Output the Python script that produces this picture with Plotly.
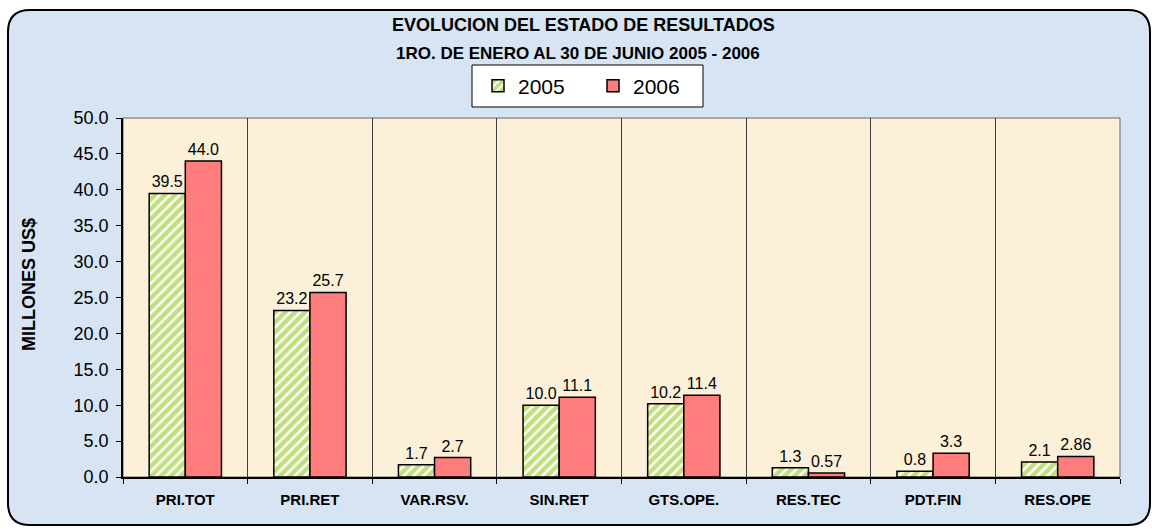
import plotly.graph_objects as go

categories = ["PRI.TOT", "PRI.RET", "VAR.RSV.", "SIN.RET", "GTS.OPE.", "RES.TEC", "PDT.FIN", "RES.OPE"]
values_2005 = [39.5, 23.2, 1.7, 10.0, 10.2, 1.3, 0.8, 2.1]
values_2006 = [44.0, 25.7, 2.7, 11.1, 11.4, 0.57, 3.3, 2.86]
labels_2005 = ["39.5", "23.2", "1.7", "10.0", "10.2", "1.3", "0.8", "2.1"]
labels_2006 = ["44.0", "25.7", "2.7", "11.1", "11.4", "0.57", "3.3", "2.86"]
y_ticks = [0, 5, 10, 15, 20, 25, 30, 35, 40, 45, 50]

W, H = 1152, 529
L, R, T, B = 123, 32, 118, 52
pw, ph = W - L - R, H - T - B

def px2x(px):
    return (px - L) / pw

def py2y(py):
    return (H - B - py) / ph

FONT = "Liberation Sans, Arial, sans-serif"

fig = go.Figure()
fig.add_trace(go.Bar(
    name="2005", x=categories, y=values_2005, text=labels_2005,
    textposition="outside", cliponaxis=False,
    textfont=dict(size=16, color="black", family=FONT),
    marker=dict(color="white", line=dict(color="black", width=1.5),
                pattern=dict(shape="/", fgcolor="#84C000", bgcolor="white", size=7, solidity=0.65)),
))
fig.add_trace(go.Bar(
    name="2006", x=categories, y=values_2006, text=labels_2006,
    textposition="outside", cliponaxis=False,
    textfont=dict(size=16, color="black", family=FONT),
    marker=dict(color="#FF7C80", line=dict(color="black", width=1.5),
                pattern=dict(shape="x", fgcolor="#FF6060", bgcolor="#FF8080", size=3, solidity=0.3)),
))

# rounded outer frame
x0, x1 = px2x(8), px2x(1150)
y0, y1 = py2y(525), py2y(10)
rx, ry = 22 / pw, 22 / ph
path = (f"M {x0+rx},{y1} L {x1-rx},{y1} Q {x1},{y1} {x1},{y1-ry} "
        f"L {x1},{y0+ry} Q {x1},{y0} {x1-rx},{y0} L {x0+rx},{y0} "
        f"Q {x0},{y0} {x0},{y0+ry} L {x0},{y1-ry} Q {x0},{y1} {x0+rx},{y1} Z")
fig.add_shape(type="path", path=path, xref="paper", yref="paper",
              fillcolor="#D6E4F3", line=dict(color="black", width=2), layer="below")
# plot area background
fig.add_shape(type="rect", xref="paper", yref="paper", x0=0, x1=1, y0=0, y1=1,
              fillcolor="#FCF0D8", line=dict(color="#666666", width=1), layer="below")
# legend box
fig.add_shape(type="rect", xref="paper", yref="paper",
              x0=px2x(472), x1=px2x(703), y0=py2y(107), y1=py2y(65),
              fillcolor="white", line=dict(color="black", width=1), layer="below")

fig.add_annotation(text="<b>EVOLUCION DEL ESTADO DE RESULTADOS</b>", x=px2x(583), y=py2y(25),
                   xref="paper", yref="paper", showarrow=False, yanchor="middle",
                   font=dict(size=18, color="black", family=FONT))
fig.add_annotation(text="<b>1RO. DE ENERO AL 30 DE JUNIO 2005 - 2006</b>", x=px2x(578), y=py2y(53),
                   xref="paper", yref="paper", showarrow=False, yanchor="middle",
                   font=dict(size=17, color="black", family=FONT))
fig.add_annotation(text="<b>MILLONES US$</b>", x=px2x(29), y=py2y(285), textangle=-90,
                   xref="paper", yref="paper", showarrow=False, xanchor="center", yanchor="middle",
                   font=dict(size=18, color="black", family=FONT))

fig.update_layout(
    width=W, height=H,
    margin=dict(l=L, r=R, t=T, b=B),
    paper_bgcolor="white",
    plot_bgcolor="rgba(0,0,0,0)",
    barmode="group", bargap=0.42, bargroupgap=0,
    font=dict(family=FONT, color="black"),
    showlegend=True,
    legend=dict(orientation="h", x=px2x(478), xanchor="left", y=py2y(86), yanchor="middle",
                bgcolor="rgba(0,0,0,0)", borderwidth=0,
                font=dict(size=21, family=FONT), itemwidth=30, entrywidth=70),
    xaxis=dict(type="category", tickson="boundaries", showgrid=True, gridcolor="#404040", gridwidth=1,
               ticks="outside", ticklen=5, tickcolor="black", ticklabelstandoff=8,
               showline=True, linecolor="black", linewidth=1.5, mirror=False,
               tickfont=dict(size=15, family=FONT, weight="bold")),
    yaxis=dict(range=[0, 50], tickvals=y_ticks, tickformat=".1f", showgrid=False,
               ticks="outside", ticklen=5, tickcolor="black", ticklabelstandoff=4,
               showline=True, linecolor="black", linewidth=1.5,
               tickfont=dict(size=18, family=FONT), zeroline=False),
)

fig.write_html("out.html", config={"displayModeBar": False},
               post_script="document.body.style.margin='0';document.body.style.padding='0';")
